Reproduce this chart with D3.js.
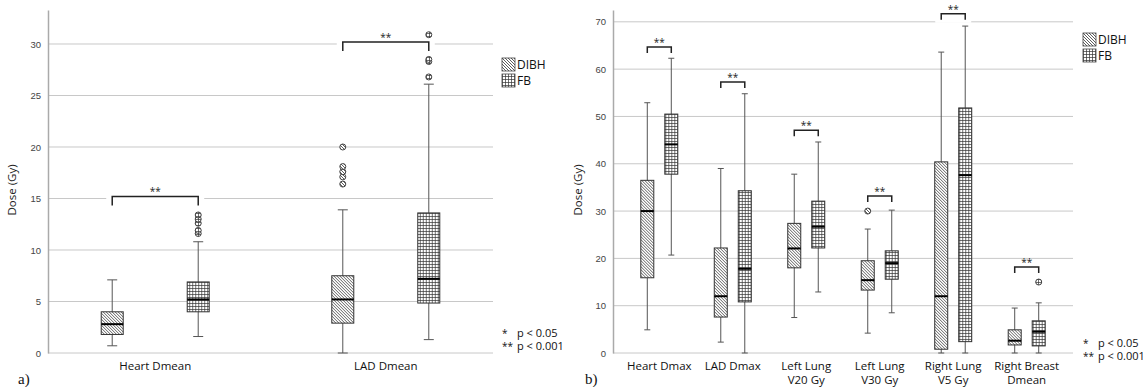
<!DOCTYPE html>
<html>
<head>
<meta charset="utf-8">
<script src="https://cdn.jsdelivr.net/npm/d3@7"></script>
<style>
  body { margin: 0; background: #fff; }
  svg { display: block; font-family: "Open Sans", "Liberation Sans", sans-serif; }
</style>
</head>
<body>
<div id="chart"></div>
<script>
// [min, q1, median, q3, max]
var leftCategories = ["Heart Dmean", "LAD Dmean"];
var leftDIBH = [[0.7, 1.8, 2.8, 4.0, 7.1], [0, 2.9, 5.2, 7.5, 13.9]];
var leftFB = [[1.6, 4.0, 5.2, 6.9, 10.8], [1.3, 4.85, 7.2, 13.6, 26.1]];
var leftDIBHOutliers = [[], [16.4, 17.1, 17.6, 18.1, 20.0]];
var leftFBOutliers = [[11.6, 11.9, 12.6, 13.0, 13.4], [26.8, 28.3, 28.5, 30.9]];
var leftBrackets = [15.2, 30.2];
var leftTicks = [0, 5, 10, 15, 20, 25, 30];

var rightCategories = [["Heart Dmax"], ["LAD Dmax"], ["Left Lung", "V20 Gy"], ["Left Lung", "V30 Gy"], ["Right Lung", "V5 Gy"], ["Right Breast", "Dmean"]];
var rightDIBH = [
    [4.9, 15.9, 30.0, 36.5, 52.9],
    [2.3, 7.6, 12.0, 22.2, 39.0],
    [7.5, 18.0, 22.1, 27.4, 37.8],
    [4.2, 13.3, 15.4, 19.5, 26.2],
    [0, 0.8, 12.0, 40.4, 63.6],
    [0, 1.7, 2.6, 4.9, 9.5]
];
var rightFB = [
    [20.7, 37.8, 44.1, 50.5, 62.3],
    [0, 10.8, 17.8, 34.3, 54.8],
    [12.9, 22.2, 26.7, 32.1, 44.6],
    [8.5, 15.6, 19.0, 21.6, 30.2],
    [0, 2.4, 37.6, 51.8, 69.1],
    [0, 1.5, 4.5, 6.8, 10.6]
];
var rightDIBHOutliers = [[], [], [], [30.0], [], []];
var rightFBOutliers = [[], [], [], [], [], [15.0]];
var rightBrackets = [64.7, 57.3, 47.1, 33.2, 71.7, 18.2];
var rightTicks = [0, 10, 20, 30, 40, 50, 60, 70];

var svg = d3.select("#chart").append("svg")
    .attr("width", 1146)
    .attr("height", 387);

var defs = svg.append("defs");
var hatch = defs.append("pattern")
    .attr("id", "hatch")
    .attr("patternUnits", "userSpaceOnUse")
    .attr("width", 3).attr("height", 3);
hatch.append("rect").attr("width", 3).attr("height", 3).attr("fill", "#fff");
hatch.append("path")
    .attr("d", "M-1,-1 L4,4 M-1,2 L1,4 M2,-1 L4,1")
    .attr("stroke", "#333").attr("stroke-width", 0.8);

var grid = defs.append("pattern")
    .attr("id", "grid")
    .attr("patternUnits", "userSpaceOnUse")
    .attr("width", 3).attr("height", 3);
grid.append("rect").attr("width", 3).attr("height", 3).attr("fill", "#fff");
grid.append("path")
    .attr("d", "M0.5,0 V3 M0,0.5 H3")
    .attr("stroke", "#333").attr("stroke-width", 0.7);

function drawPanel(cfg) {
    var g = svg.append("g");
    var yScale = d3.scaleLinear().domain([0, cfg.yMax]).range([353, 10]);
    var xScale = d3.scalePoint()
        .domain(d3.range(cfg.categories.length))
        .range([cfg.x0, cfg.x1])
        .padding(cfg.padding);

    // gridlines
    g.append("g").selectAll("line")
        .data(cfg.ticks)
        .enter().append("line")
        .attr("x1", cfg.x0).attr("x2", cfg.x1)
        .attr("y1", function(d) { return yScale(d); })
        .attr("y2", function(d) { return yScale(d); })
        .attr("stroke", "#c8c8c8").attr("stroke-width", 1);

    // y axis
    var yAxis = d3.axisLeft(yScale).tickValues(cfg.ticks).tickSize(0).tickPadding(7);
    var ax = g.append("g").attr("transform", "translate(" + cfg.x0 + ",0)").call(yAxis);
    ax.select(".domain").attr("stroke", "#aaa").attr("stroke-width", 1.5);
    ax.selectAll("text").attr("font-size", 9.5).attr("fill", "#444")
        .style("font-family", "Liberation Sans, sans-serif");

    g.append("text")
        .attr("transform", "translate(" + cfg.titleX + ",190) rotate(-90)")
        .attr("text-anchor", "middle")
        .attr("font-size", 11.5)
        .attr("fill", "#222")
        .text("Dose (Gy)");

    // category labels
    var lab = g.append("g").selectAll("text")
        .data(cfg.categories)
        .enter().append("text")
        .attr("x", function(d, i) { return xScale(i); })
        .attr("y", 370)
        .attr("text-anchor", "middle")
        .attr("font-size", 11.5)
        .attr("fill", "#111");
    lab.selectAll("tspan")
        .data(function(d) { return typeof d === "string" ? [d] : d; })
        .enter().append("tspan")
        .attr("x", function() { return d3.select(this.parentNode).attr("x"); })
        .attr("dy", function(d, i) { return i === 0 ? 0 : 14; })
        .text(function(d) { return d; });

    var series = [
        { name: "DIBH", boxes: cfg.dibh, outliers: cfg.dibhOut, off: -cfg.offset, fill: "url(#hatch)" },
        { name: "FB", boxes: cfg.fb, outliers: cfg.fbOut, off: cfg.offset, fill: "url(#grid)" }
    ];

    // brackets drawn under boxes with white backing
    cfg.brackets.forEach(function(v, i) {
        var xa = xScale(i) - cfg.offset, xb = xScale(i) + cfg.offset, y = yScale(v);
        g.append("rect")
            .attr("x", xa - 6).attr("y", y - 1)
            .attr("width", xb - xa + 12).attr("height", cfg.tick + 4)
            .attr("fill", "#fff");
        g.append("path")
            .attr("d", "M" + xa + "," + (y + cfg.tick) + "V" + y + "H" + xb + "V" + (y + cfg.tick))
            .attr("fill", "none").attr("stroke", "#222").attr("stroke-width", 1.5);
        g.append("text")
            .attr("x", (xa + xb) / 2).attr("y", y - 1)
            .attr("text-anchor", "middle")
            .attr("font-size", 10).attr("fill", "#222")
            .text("**");
    });

    series.forEach(function(s) {
        var sg = g.append("g").attr("class", "series-" + s.name);
        var items = sg.selectAll(".item")
            .data(s.boxes)
            .enter().append("g")
            .attr("class", "item")
            .attr("transform", function(d, i) { return "translate(" + (xScale(i) + s.off) + ",0)"; });

        // whisker
        items.append("line")
            .attr("y1", function(d) { return yScale(d[0]); })
            .attr("y2", function(d) { return yScale(d[4]); })
            .attr("stroke", "#555").attr("stroke-width", 1);
        items.selectAll(".cap")
            .data(function(d) { return [d[0], d[4]]; })
            .enter().append("line")
            .attr("class", "cap")
            .attr("x1", -cfg.cap / 2).attr("x2", cfg.cap / 2)
            .attr("y1", function(d) { return yScale(d); })
            .attr("y2", function(d) { return yScale(d); })
            .attr("stroke", "#555").attr("stroke-width", 1);
        // box
        items.append("rect")
            .attr("x", -cfg.boxW / 2)
            .attr("width", cfg.boxW)
            .attr("y", function(d) { return yScale(d[3]); })
            .attr("height", function(d) { return yScale(d[1]) - yScale(d[3]); })
            .attr("fill", s.fill)
            .attr("stroke", "#333").attr("stroke-width", 1);
        // median
        items.append("line")
            .attr("x1", -cfg.boxW / 2).attr("x2", cfg.boxW / 2)
            .attr("y1", function(d) { return yScale(d[2]); })
            .attr("y2", function(d) { return yScale(d[2]); })
            .attr("stroke", "#000").attr("stroke-width", 2);

        // outliers
        s.outliers.forEach(function(arr, i) {
            sg.selectAll(".out" + i)
                .data(arr)
                .enter().append("circle")
                .attr("class", "out" + i)
                .attr("cx", xScale(i) + s.off)
                .attr("cy", function(d) { return yScale(d); })
                .attr("r", 3)
                .attr("fill", s.fill)
                .attr("stroke", "#444").attr("stroke-width", 1);
        });
    });

    // legend
    var leg = g.append("g").attr("transform", "translate(" + cfg.legX + "," + cfg.legY + ")");
    series.forEach(function(s, i) {
        leg.append("rect")
            .attr("x", 0).attr("y", i * 16)
            .attr("width", 13).attr("height", 13)
            .attr("fill", s.fill)
            .attr("stroke", "#444").attr("stroke-width", 0.8);
        leg.append("text")
            .attr("x", 15).attr("y", i * 16 + 11)
            .attr("font-size", 12).attr("fill", "#111")
            .text(s.name);
    });

    // p-value notes
    var notes = [["*", "p < 0.05"], ["**", "p < 0.001"]];
    var pn = g.append("g").attr("transform", "translate(" + cfg.legX + "," + cfg.pY + ")");
    notes.forEach(function(n, i) {
        pn.append("text").attr("x", 0).attr("y", i * 13)
            .attr("font-size", 10).attr("fill", "#111").text(n[0]);
        pn.append("text").attr("x", 15).attr("y", i * 13)
            .attr("font-size", 11).attr("fill", "#111").text(n[1]);
    });

    g.append("text")
        .attr("x", cfg.tagX).attr("y", 384)
        .attr("font-size", 15)
        .style("font-family", "Liberation Serif, serif")
        .attr("fill", "#111")
        .text(cfg.tag);
}

drawPanel({
    categories: leftCategories, dibh: leftDIBH, fb: leftFB,
    dibhOut: leftDIBHOutliers, fbOut: leftFBOutliers, brackets: leftBrackets,
    ticks: leftTicks, yMax: 33.3,
    x0: 48, x1: 493, padding: 0.465, offset: 43, boxW: 22, cap: 10, tick: 9,
    titleX: 16, legX: 502, legY: 58, pY: 337, tag: "a)", tagX: 18
});

drawPanel({
    categories: rightCategories, dibh: rightDIBH, fb: rightFB,
    dibhOut: rightDIBHOutliers, fbOut: rightFBOutliers, brackets: rightBrackets,
    ticks: rightTicks, yMax: 72.5,
    x0: 613, x1: 1073, padding: 0.63, offset: 12, boxW: 13, cap: 6, tick: 6,
    titleX: 582, legX: 1083, legY: 33, pY: 347, tag: "b)", tagX: 585
});
</script>
</body>
</html>
